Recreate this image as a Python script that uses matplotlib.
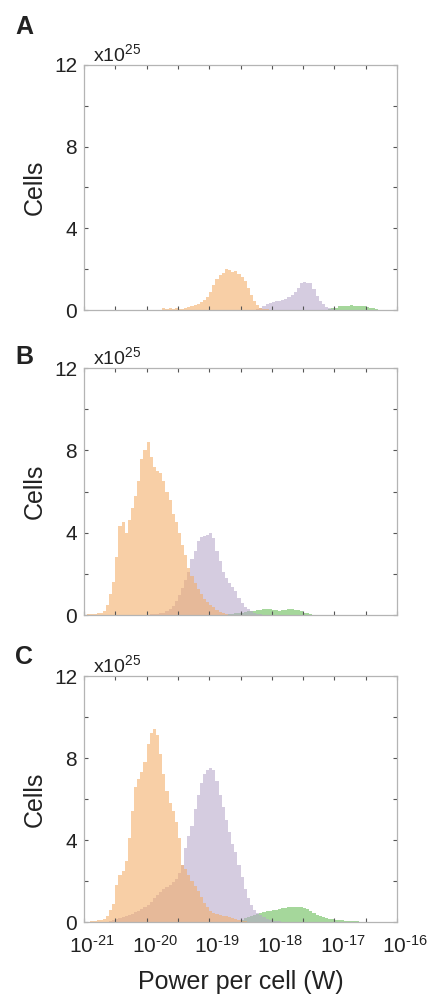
import matplotlib
matplotlib.use("Agg")
import matplotlib.pyplot as plt
from matplotlib.transforms import ScaledTranslation
import numpy as np

plt.rcParams['font.family'] = ['Liberation Sans', 'DejaVu Sans']
plt.rcParams['mathtext.fontset'] = 'custom'
plt.rcParams['mathtext.rm'] = 'Liberation Sans'
plt.rcParams['mathtext.it'] = 'Liberation Sans'

# histogram bins are 0.05 decade wide; each series = (log10 of first edge, counts x1e25)
BIN = 0.05

# panel A
a_orange_start = -19.75
a_orange = [0.1, 0.05, 0.12, 0.05, 0.1, 0.03, 0.06, 0.1, 0.15, 0.2, 0.25, 0.3, 0.38,
            0.5, 0.65, 0.9, 1.2, 1.5, 1.7, 1.8, 2.0, 1.95, 1.85, 1.9, 1.75, 1.6, 1.4,
            1.1, 0.75, 0.45, 0.25, 0.12, 0.06, 0.03]
a_purple_start = -18.25
a_purple = [0.05, 0.1, 0.2, 0.3, 0.35, 0.4, 0.42, 0.45, 0.5, 0.55, 0.62, 0.75, 0.9,
            1.1, 1.3, 1.35, 1.3, 1.3, 1.05, 0.7, 0.45, 0.28, 0.15, 0.08, 0.04]
a_green_start = -17.1
a_green = [0.03, 0.08, 0.12, 0.18, 0.2, 0.2, 0.22, 0.25, 0.22, 0.2, 0.2, 0.18, 0.15,
           0.12, 0.08, 0.04, 0.02]

# panel B
b_orange_start = -20.95
b_orange = [0.03, 0.05, 0.05, 0.08, 0.1, 0.2, 0.5, 1.0, 1.6, 2.8, 4.3, 4.5, 4.0, 4.6,
            5.2, 5.8, 6.5, 7.6, 8.0, 8.4, 7.7, 7.2, 7.0, 6.9, 6.5, 6.0, 5.6, 4.9, 4.5,
            4.0, 3.4, 2.9, 2.3, 1.9, 1.55, 1.25, 1.0, 0.8, 0.65, 0.5, 0.38, 0.25, 0.15,
            0.08, 0.04, 0.02]
b_purple_start = -20.0
b_purple = [0.02, 0.03, 0.05, 0.07, 0.1, 0.12, 0.18, 0.3, 0.45, 0.7, 0.95, 1.3, 1.7,
            2.1, 2.7, 3.1, 3.6, 3.8, 3.85, 3.9, 4.0, 3.75, 3.1, 2.6, 2.1, 1.8, 1.55,
            1.35, 1.15, 0.85, 0.6, 0.4, 0.28, 0.18, 0.1, 0.06, 0.03]
b_green_start = -18.7
b_green = [0.05, 0.07, 0.1, 0.12, 0.12, 0.15, 0.18, 0.2, 0.2, 0.22, 0.25, 0.28, 0.3,
           0.27, 0.25, 0.22, 0.2, 0.22, 0.25, 0.28, 0.3, 0.25, 0.22, 0.18, 0.12, 0.08,
           0.04, 0.02]

# panel C
c_orange_start = -20.9
c_orange = [0.03, 0.05, 0.08, 0.1, 0.15, 0.3, 0.6, 0.9, 1.8, 2.3, 2.5, 3.0, 4.1, 5.4,
            6.6, 7.0, 7.3, 7.8, 8.7, 9.2, 9.4, 9.1, 8.2, 7.2, 6.4, 5.8, 5.4, 4.9, 4.1,
            2.8, 2.6, 2.3, 2.0, 1.75, 1.5, 1.2, 0.95, 0.75, 0.55, 0.45, 0.4, 0.35, 0.3,
            0.28, 0.25, 0.2, 0.15, 0.1, 0.07, 0.05, 0.02]
c_purple_start = -20.6
c_purple = [0.05, 0.1, 0.15, 0.2, 0.25, 0.3, 0.35, 0.4, 0.5, 0.55, 0.65, 0.75, 0.85,
            1.0, 1.15, 1.3, 1.45, 1.6, 1.7, 1.8, 1.95, 2.1, 2.4, 2.8, 3.6, 4.2, 4.7,
            5.5, 6.2, 6.8, 7.2, 7.4, 7.5, 7.4, 6.9, 6.2, 5.6, 5.0, 4.4, 3.8, 3.4, 2.8,
            2.2, 1.6, 1.15, 0.85, 0.6, 0.45, 0.32, 0.22, 0.15, 0.1, 0.07, 0.05, 0.03]
c_green_start = -18.5
c_green = [0.1, 0.2, 0.25, 0.3, 0.35, 0.4, 0.45, 0.5, 0.55, 0.55, 0.6, 0.6, 0.65, 0.68,
           0.7, 0.72, 0.75, 0.75, 0.75, 0.72, 0.7, 0.62, 0.55, 0.45, 0.35, 0.28, 0.22,
           0.18, 0.15, 0.13, 0.12, 0.1, 0.08, 0.07, 0.06, 0.05, 0.04, 0.03, 0.02, 0.01]

panels = [
    ('A', [(a_green_start, a_green), (a_purple_start, a_purple), (a_orange_start, a_orange)]),
    ('B', [(b_green_start, b_green), (b_purple_start, b_purple), (b_orange_start, b_orange)]),
    ('C', [(c_green_start, c_green), (c_purple_start, c_purple), (c_orange_start, c_orange)]),
]
colors = ['#61b950', '#b5a6c9', '#f3ab63']   # green, purple, orange
ALPHA = 0.57

exps = np.arange(-21, -15.9, 0.5)
xticks = [10.0 ** e for e in exps]
xlabels = ['10$^{\\text{%d}}$' % e if float(e).is_integer() else '' for e in exps]

fig = plt.figure(figsize=(4.3, 9.96), dpi=100)
# axes rectangles in pixels (top, bottom)
rects = [(65, 310), (368, 615), (676, 922)]
letter_tops = [15, 345, 645]

for (letter, series), (top, bot), ltop in zip(panels, rects, letter_tops):
    ax = fig.add_axes([84 / 430, 1 - bot / 996, 313 / 430, (bot - top) / 996])
    for (start, vals), col in zip(series, colors):
        edges = 10.0 ** (start + BIN * np.arange(len(vals) + 1))
        ax.stairs(vals, edges, fill=True, color=col, alpha=ALPHA, linewidth=0)
    ax.set_xscale('log')
    ax.set_xlim(1e-21, 1e-16)
    ax.set_ylim(0, 12)
    ax.xaxis.set_minor_locator(matplotlib.ticker.NullLocator())
    ax.set_xticks(xticks)
    ax.set_yticks([0, 2, 4, 6, 8, 10, 12])
    ax.set_yticklabels(['0', '', '4', '', '8', '', '12'])
    ax.tick_params(direction='in', length=3, width=0.8, color='#555555',
                   top=True, right=True, labelsize=15, labelcolor='#222222')
    ax.tick_params(axis='x', pad=9)
    ax.tick_params(axis='y', pad=5)
    if letter == 'C':
        ax.set_xticklabels(xlabels)
        # base "10" sits centred on the tick, exponent hangs to the right
        shift = ScaledTranslation(8 / 100, 0, fig.dpi_scale_trans)
        for t in ax.xaxis.get_major_ticks():
            t.label1.set_transform(t.label1.get_transform() + shift)
        ax.set_xlabel('Power per cell (W)', fontsize=18, color='#222222')
        ax.xaxis.set_label_coords(0.5, -0.195)
    else:
        ax.set_xticklabels([])
    for s in ax.spines.values():
        s.set_color('#b4b4b4')
        s.set_linewidth(0.9)
    ax.set_ylabel('Cells', fontsize=18, color='#222222')
    ax.yaxis.set_label_coords(-0.12, 0.5)
    ax.text(0.03, 1.0, 'x10$^{25}$', transform=ax.transAxes, fontsize=14,
            color='#222222', va='bottom', ha='left')
    fig.text(15 / 430, 1 - ltop / 996, letter, fontsize=18, fontweight='bold',
             va='top', ha='left', color='#222222')

fig.savefig('out.png', dpi=100)
